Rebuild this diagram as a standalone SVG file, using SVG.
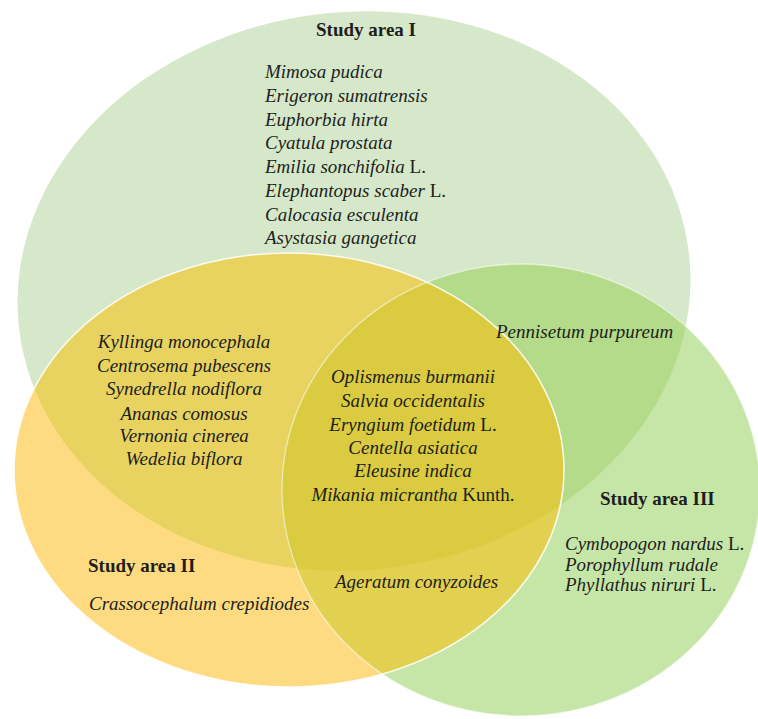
<svg xmlns="http://www.w3.org/2000/svg" width="758" height="719" viewBox="0 0 758 719">
<style>
.t{font-family:"Liberation Serif","Times New Roman",serif;font-size:19px;fill:#1e1e1e}
.i{font-style:italic}
.n{font-style:normal}
.h{font-weight:bold}
.c{text-anchor:middle}
</style>
<defs>
<clipPath id="cI"><ellipse cx="354" cy="291" rx="337" ry="279" transform="rotate(-6 354 291)"/></clipPath>
<clipPath id="cII"><ellipse cx="289" cy="470" rx="275" ry="217"/></clipPath>
<clipPath id="cIII"><ellipse cx="521" cy="490" rx="239" ry="226"/></clipPath>
</defs>
<rect width="758" height="719" fill="#ffffff"/>
<g id="area-I">
<ellipse cx="354" cy="291" rx="337" ry="279" transform="rotate(-6 354 291)" fill="#d5e8c9"/>
</g>
<g id="area-II">
<ellipse cx="289" cy="470" rx="275" ry="217" fill="#fedb80"/>
</g>
<g id="area-III">
<ellipse cx="521" cy="490" rx="239" ry="226" fill="#c6e6a8"/>
</g>
<g id="overlaps">
<g clip-path="url(#cI)"><ellipse cx="289" cy="470" rx="275" ry="217" fill="#e8d361"/></g>
<g clip-path="url(#cI)"><ellipse cx="521" cy="490" rx="239" ry="226" fill="#b3db8a"/></g>
<g clip-path="url(#cII)"><ellipse cx="521" cy="490" rx="239" ry="226" fill="#e2d050"/></g>
<g clip-path="url(#cI)"><g clip-path="url(#cII)"><ellipse cx="521" cy="490" rx="239" ry="226" fill="#dacb40"/></g></g>
</g>
<g id="outlines" fill="none" stroke="#ffffff">
<ellipse cx="521" cy="490" rx="239" ry="226" stroke-width="1.3" stroke-opacity="0.55"/>
<ellipse cx="289" cy="470" rx="275" ry="217" stroke-width="1.6" stroke-opacity="0.85"/>
</g>
<g id="label-I" class="t">
<text class="h c" x="366" y="36">Study area I</text>
<text class="i" x="265" y="78">Mimosa pudica</text>
<text class="i" x="265" y="102">Erigeron sumatrensis</text>
<text class="i" x="265" y="125.5">Euphorbia hirta</text>
<text class="i" x="265" y="149">Cyatula prostata</text>
<text class="i" x="265" y="173">Emilia sonchifolia <tspan class="n">L.</tspan></text>
<text class="i" x="265" y="197">Elephantopus scaber <tspan class="n">L.</tspan></text>
<text class="i" x="265" y="220.5">Calocasia esculenta</text>
<text class="i" x="265" y="244">Asystasia gangetica</text>
</g>
<g id="label-I-II" class="t i c">
<text x="184" y="348">Kyllinga monocephala</text>
<text x="184" y="372">Centrosema pubescens</text>
<text x="184" y="395">Synedrella nodiflora</text>
<text x="184" y="420">Ananas comosus</text>
<text x="184" y="442">Vernonia cinerea</text>
<text x="184" y="465">Wedelia biflora</text>
</g>
<g id="label-I-II-III" class="t i c">
<text x="413" y="383">Oplismenus burmanii</text>
<text x="413" y="407">Salvia occidentalis</text>
<text x="413" y="431">Eryngium foetidum <tspan class="n">L.</tspan></text>
<text x="413" y="454">Centella asiatica</text>
<text x="413" y="477">Eleusine indica</text>
<text x="413" y="501">Mikania micrantha <tspan class="n">Kunth.</tspan></text>
</g>
<g id="label-I-III" class="t i">
<text x="496" y="338">Pennisetum purpureum</text>
</g>
<g id="label-III" class="t">
<text class="h" x="600" y="505">Study area III</text>
<text class="i" x="565" y="550">Cymbopogon nardus <tspan class="n">L.</tspan></text>
<text class="i" x="565" y="571">Porophyllum rudale</text>
<text class="i" x="565" y="591">Phyllathus niruri <tspan class="n">L.</tspan></text>
</g>
<g id="label-II-III" class="t i">
<text x="335" y="588">Ageratum conyzoides</text>
</g>
<g id="label-II" class="t">
<text class="h" x="88" y="572">Study area II</text>
<text class="i" x="89" y="610">Crassocephalum crepidiodes</text>
</g>
</svg>
